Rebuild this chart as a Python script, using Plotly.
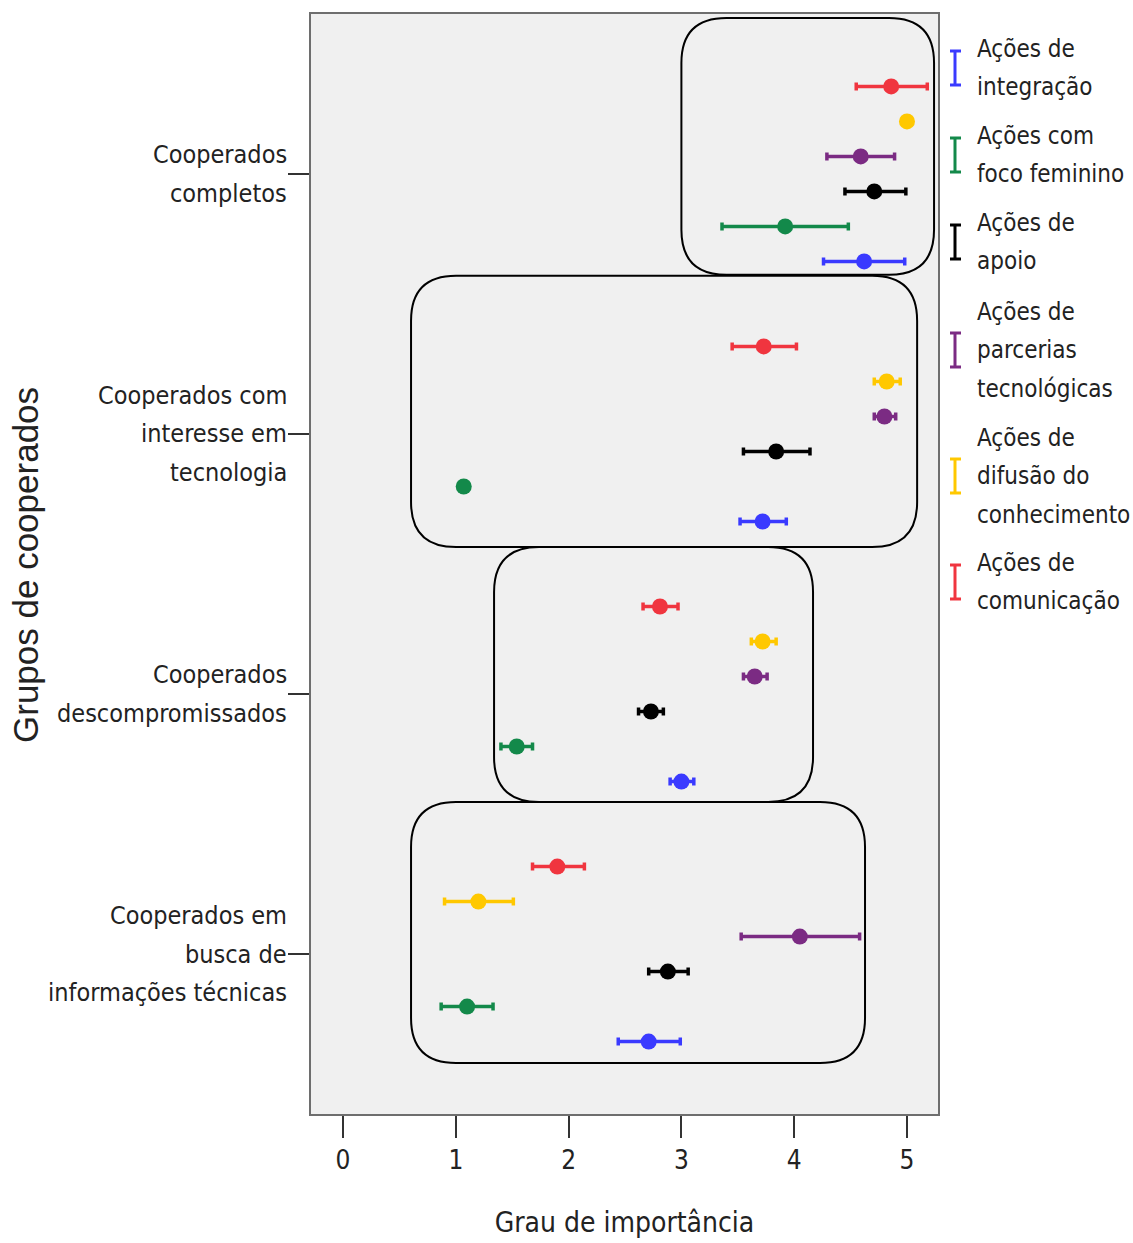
import plotly.graph_objects as go

groups = [["Cooperados", "completos"],
          ["Cooperados com", "interesse em", "tecnologia"],
          ["Cooperados", "descompromissados"],
          ["Cooperados em", "busca de", "informações técnicas"]]

# series ordered top to bottom within each group
series = ["Ações de comunicação", "Ações de difusão do conhecimento", "Ações de parcerias tecnológicas",
          "Ações de apoio", "Ações com foco feminino", "Ações de integração"]
legend_labels = [["Ações de", "comunicação"], ["Ações de", "difusão do", "conhecimento"],
                 ["Ações de", "parcerias", "tecnológicas"], ["Ações de", "apoio"],
                 ["Ações com", "foco feminino"], ["Ações de", "integração"]]
colors = ["#f0353f", "#ffc800", "#7b2b83", "#000000", "#13894a", "#3a3aff"]

# mean, lower, upper per series across groups
comunicacao = [4.86, 3.73, 2.81, 1.90]
comunicacao_lo = [4.55, 3.45, 2.66, 1.68]
comunicacao_hi = [5.18, 4.02, 2.97, 2.14]
difusao = [5.00, 4.82, 3.72, 1.20]
difusao_lo = [5.00, 4.71, 3.62, 0.90]
difusao_hi = [5.00, 4.94, 3.84, 1.51]
parcerias = [4.59, 4.80, 3.65, 4.05]
parcerias_lo = [4.29, 4.71, 3.55, 3.53]
parcerias_hi = [4.89, 4.90, 3.76, 4.58]
apoio = [4.71, 3.84, 2.73, 2.88]
apoio_lo = [4.45, 3.55, 2.62, 2.71]
apoio_hi = [4.99, 4.14, 2.84, 3.06]
feminino = [3.92, 1.07, 1.54, 1.10]
feminino_lo = [3.36, 1.07, 1.40, 0.87]
feminino_hi = [4.48, 1.07, 1.68, 1.33]
integracao = [4.62, 3.72, 3.00, 2.71]
integracao_lo = [4.26, 3.52, 2.90, 2.44]
integracao_hi = [4.98, 3.93, 3.11, 2.99]

means = [comunicacao, difusao, parcerias, apoio, feminino, integracao]
lows = [comunicacao_lo, difusao_lo, parcerias_lo, apoio_lo, feminino_lo, integracao_lo]
highs = [comunicacao_hi, difusao_hi, parcerias_hi, apoio_hi, feminino_hi, integracao_hi]

FONT = "DejaVu Sans Condensed, Liberation Sans Narrow, Arial Narrow, sans-serif"
TXT = "#222222"

fig = go.Figure()
step = 35 / 260
for i, name in enumerate(series):
    ys = [g + (i - 2.5) * step for g in range(len(groups))]
    m = means[i]
    fig.add_trace(go.Scatter(
        x=m, y=ys, mode="markers", name=name, showlegend=False,
        marker=dict(color=colors[i], size=16, line=dict(width=0)),
        error_x=dict(type="data", symmetric=False,
                     array=[h - v for h, v in zip(highs[i], m)],
                     arrayminus=[v - l for v, l in zip(m, lows[i])],
                     color=colors[i], thickness=3.5, width=4),
    ))

# rounded boxes around groups (x data, y data)
boxes = [(3.00, 5.24, -0.600, 0.388), (0.603, 5.09, 0.392, 1.435),
         (1.339, 4.167, 1.435, 2.415), (0.603, 4.628, 2.415, 3.419)]
rx = 45 / 112.8
ry = 45 / 260
for x0, x1, y0, y1 in boxes:
    p = (f"M {x0+rx},{y0} L {x1-rx},{y0} Q {x1},{y0} {x1},{y0+ry} "
         f"L {x1},{y1-ry} Q {x1},{y1} {x1-rx},{y1} L {x0+rx},{y1} "
         f"Q {x0},{y1} {x0},{y1-ry} L {x0},{y0+ry} Q {x0},{y0} {x0+rx},{y0} Z")
    fig.add_shape(type="path", path=p, xref="x", yref="y",
                  line=dict(color="#000000", width=2))

# pixel -> paper conversion helpers for decorations
L, R, T, B = 311, 938, 14, 1114
def px_x(px):
    return (px - L) / (R - L)
def px_y(py):
    return (B - py) / (B - T)

LINE = 38.5

# group labels (one annotation per line, centered on the category tick)
for g, lines in enumerate(groups):
    n = len(lines)
    for k, ln in enumerate(lines):
        fig.add_annotation(xref="paper", yref="y", x=px_x(289),
                           y=g + (k - (n - 1) / 2) * LINE / 260,
                           xanchor="right", yanchor="middle", showarrow=False,
                           text=ln, font=dict(family=FONT, size=25, color=TXT))

# custom legend with I-shaped error-bar icons
legend_centers = [582, 476, 350, 242, 155, 68]
for i, lines in enumerate(legend_labels):
    cy = legend_centers[i]
    x = px_x(955)
    fig.add_shape(type="line", xref="paper", yref="paper", x0=x, x1=x,
                  y0=px_y(cy - 17), y1=px_y(cy + 17), line=dict(color=colors[i], width=3))
    for yy in (cy - 17, cy + 17):
        fig.add_shape(type="line", xref="paper", yref="paper", x0=px_x(950), x1=px_x(961),
                      y0=px_y(yy), y1=px_y(yy), line=dict(color=colors[i], width=3))
    n = len(lines)
    for k, ln in enumerate(lines):
        fig.add_annotation(xref="paper", yref="paper", x=px_x(975),
                           y=px_y(cy + (k - (n - 1) / 2) * LINE),
                           xanchor="left", yanchor="middle", showarrow=False,
                           text=ln, font=dict(family=FONT, size=24, color=TXT))

# y-axis title
fig.add_annotation(xref="paper", yref="paper", x=px_x(25), y=px_y(565),
                   xanchor="center", yanchor="middle", showarrow=False, textangle=-90,
                   text="Grupos de cooperados",
                   font=dict(family="Liberation Sans, Arial, sans-serif", size=35, color=TXT))

fig.update_layout(
    width=1133, height=1243,
    margin=dict(l=311, r=195, t=14, b=129),
    paper_bgcolor="white", plot_bgcolor="#f0f0f0",
    font=dict(family=FONT, size=25, color=TXT),
    xaxis=dict(range=[-0.284, 5.275], tickvals=[0, 1, 2, 3, 4, 5], automargin=False,
               showgrid=False, zeroline=False, showline=True, mirror=True,
               linecolor="#6e6e6e", linewidth=2,
               ticks="outside", ticklen=22, tickwidth=2, tickcolor="#333333",
               tickfont=dict(family=FONT, size=26, color=TXT),
               title=dict(text="Grau de importância", standoff=38,
                          font=dict(family=FONT, size=28, color=TXT))),
    yaxis=dict(range=[3.615, -0.615], tickvals=list(range(len(groups))),
               ticktext=[""] * len(groups), automargin=False,
               showgrid=False, zeroline=False, showline=True, mirror=True,
               linecolor="#6e6e6e", linewidth=2,
               ticks="outside", ticklen=21, tickwidth=2, tickcolor="#333333"),
)

fig.write_html("out.html")
